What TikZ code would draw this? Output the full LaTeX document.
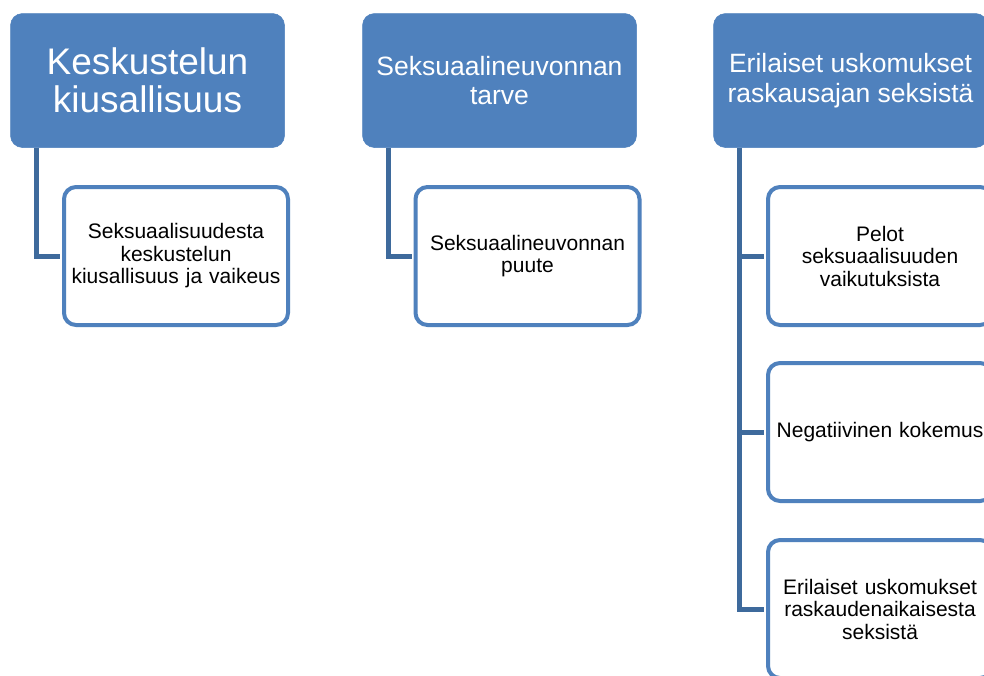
\documentclass[tikz,border=0pt]{standalone}
\usepackage{fontspec}
\setmainfont{Liberation Sans}
\definecolor{accent}{HTML}{4F81BD}
\definecolor{connc}{HTML}{3E6A9C}
\begin{document}
\begin{tikzpicture}[x=1pt,y=-1pt,
  head/.style={fill=accent, draw=accent, line width=0.5pt, rounded corners=12pt,
    minimum width=274pt, minimum height=134pt, text=white, align=center, inner sep=0pt},
  bighead/.style={head, font=\fontsize{37}{38}\selectfont},
  smallhead/.style={head, font=\fontsize{26.5}{29.5}\selectfont},
  child/.style={fill=white, draw=accent, line width=4pt, rounded corners=12pt,
    minimum width=224pt, minimum height=138pt, align=center, text width=218pt,
    font=\fontsize{21}{22.5}\selectfont, inner sep=0pt},
  conn/.style={draw=connc, line width=5pt, shorten >=2pt}]
\useasboundingbox (0,0) rectangle (984,675);
\clip (0,0) rectangle (984,675);
\fill[white] (0,0) rectangle (984,675);
% headers
\node[bighead] (h1) at (147.5,80.5) {Keskustelun\\kiusallisuus};
\node[smallhead] (h2) at (499.5,80.5) {Seksuaalineuvonnan\\tarve};
\node[smallhead] (h3) at (850.5,80.5) {Erilaiset uskomukset\\raskausajan seksistä};
% children
\node[child] (c1) at (176,256) {Seksuaalisuudesta\\keskustelun\\kiusallisuus ja vaikeus};
\node[child] (c2) at (527.5,256) {Seksuaalineuvonnan\\puute};
\node[child] (c3a) at (880,256) {Pelot\\seksuaalisuuden\\vaikutuksista};
\node[child] (c3b) at (880,432) {Negatiivinen kokemus};
\node[child] (c3c) at (880,609) {Erilaiset uskomukset\\raskaudenaikaisesta\\seksistä};
% connectors
\draw[conn] ([xshift=26pt]h1.south west) |- (c1.west);
\draw[conn] ([xshift=26pt]h2.south west) |- (c2.west);
\draw[conn] ([xshift=26pt]h3.south west) |- (c3a.west);
\draw[conn] ([xshift=26pt]h3.south west) |- (c3b.west);
\draw[conn] ([xshift=26pt]h3.south west) |- (c3c.west);
\end{tikzpicture}
\end{document}
